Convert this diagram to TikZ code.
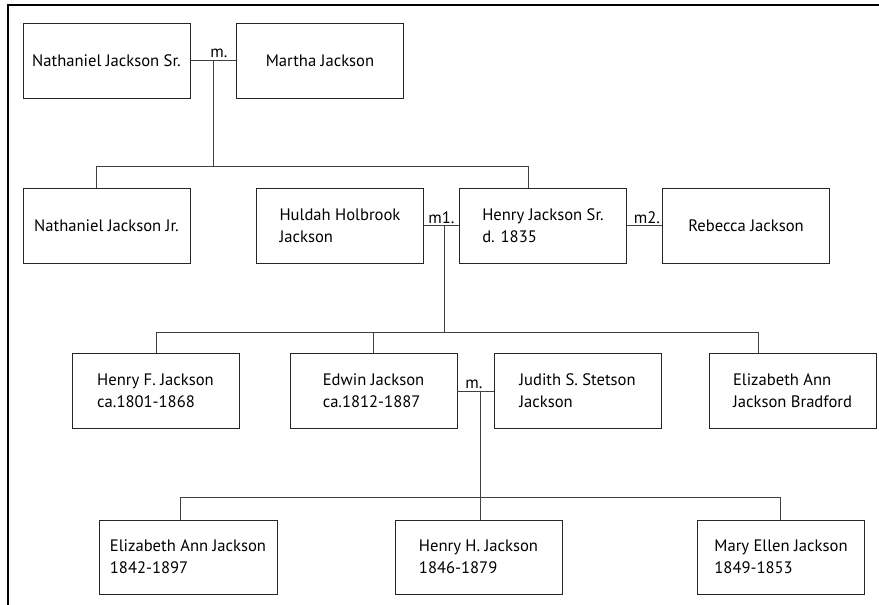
\documentclass[tikz,border=0pt]{standalone}
\usepackage{fontspec}
\setmainfont{PT Sans}
\usetikzlibrary{positioning}

\begin{document}
\begin{tikzpicture}[x=1pt, y=-1pt,
	person/.style={draw=black!85, line width=0.9pt, minimum width=167pt, minimum height=75pt, align=left, inner sep=0pt, font=\fontsize{16.6}{22}\selectfont},
	link/.style={draw=black!75, line width=0.9pt},
	wed/.style={above=1pt, inner sep=1pt, font=\fontsize{16.6}{22}\selectfont}]

	\useasboundingbox (0,0) rectangle (879,605);
	\draw[line width=1.6pt] (8,605) -- (8,5) -- (879,5);

	% first generation
	\node[person] (natsr) at (106.5,60.5) {Nathaniel Jackson Sr.};
	\node[person] (martha) at (320,60.5) {Martha Jackson};
	\draw[link] (natsr) -- (martha);
	\node[wed] at (219,60) {m.};
	\coordinate (j1) at (213,60);
	\coordinate (b1) at (213,166);
	\coordinate (d1a) at (96,166);
	\coordinate (d1b) at (528,166);

	% second generation
	\node[person] (natjr) at (106.5,225.5) {Nathaniel Jackson Jr.};
	\node[person] (huldah) at (340,225.5) {Huldah Holbrook\\Jackson};
	\node[person] (henrysr) at (543,225.5) {Henry Jackson Sr.\\d. 1835};
	\node[person] (rebecca) at (746,225.5) {Rebecca Jackson};
	\draw[link] (huldah) -- (henrysr);
	\draw[link] (henrysr) -- (rebecca);
	\node[wed] at (441.5,226) {m1.};
	\node[wed] at (647,226) {m2.};
	\coordinate (j2) at (444,226);
	\coordinate (b2) at (444,332);
	\coordinate (d2a) at (156,332);
	\coordinate (d2b) at (373.5,332);
	\coordinate (d2c) at (758,332);

	% third generation
	\node[person] (henryf) at (155.5,391) {Henry F. Jackson\\ca.1801-1868};
	\node[person] (edwin) at (373.5,391) {Edwin Jackson\\ca.1812-1887};
	\node[person] (judith) at (577.5,391) {Judith S. Stetson\\Jackson};
	\node[person] (bradford) at (792.5,391) {Elizabeth Ann\\Jackson Bradford};
	\draw[link] (edwin) -- (judith);
	\node[wed] at (474,391) {m.};
	\coordinate (j3) at (480,391);
	\coordinate (b3) at (480,497);
	\coordinate (d3a) at (180,497);
	\coordinate (d3c) at (780,497);

	% fourth generation
	\node[person, minimum width=178pt, minimum height=74pt] (elizabeth) at (188,557) {Elizabeth Ann Jackson\\1842-1897};
	\node[person, minimum height=74pt] (henryh) at (478.5,557) {Henry H. Jackson\\1846-1879};
	\node[person, minimum height=74pt] (maryellen) at (781,557) {Mary Ellen Jackson\\1849-1853};

	% descent lines
	\draw[link] (j1) -- (b1);
	\draw[link] (d1a) -- (d1b);
	\draw[link] (d1a) -- (d1a |- natjr.north);
	\draw[link] (d1b) -- (d1b |- henrysr.north);

	\draw[link] (j2) -- (b2);
	\draw[link] (d2a) -- (d2c);
	\draw[link] (d2a) -- (d2a |- henryf.north);
	\draw[link] (d2b) -- (d2b |- edwin.north);
	\draw[link] (d2c) -- (d2c |- bradford.north);

	\draw[link] (j3) -- (b3);
	\draw[link] (d3a) -- (d3c);
	\draw[link] (d3a) -- (d3a |- elizabeth.north);
	\draw[link] (b3) -- (b3 |- henryh.north);
	\draw[link] (d3c) -- (d3c |- maryellen.north);

\end{tikzpicture}
\end{document}
